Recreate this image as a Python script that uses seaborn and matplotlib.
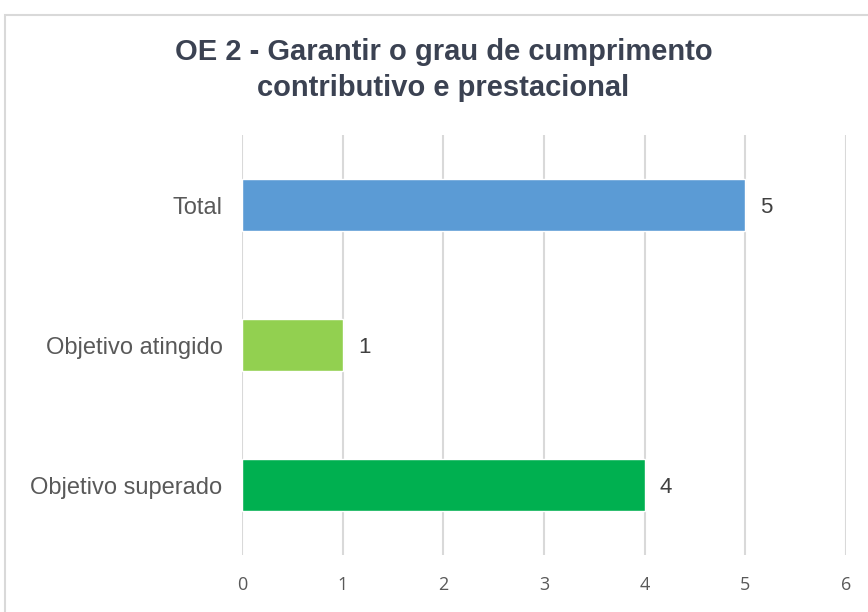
import matplotlib
matplotlib.use("Agg")
import matplotlib.pyplot as plt
import pandas as pd
import seaborn as sns
from matplotlib.patches import Rectangle

categories = ["Total", "Objetivo atingido", "Objetivo superado"]
values = [5, 1, 4]
colors = ["#5B9BD5", "#92D050", "#00B050"]
x_ticks = [0, 1, 2, 3, 4, 5, 6]
title = "OE 2 - Garantir o grau de cumprimento\ncontributivo e prestacional"

sns.set_style("white")
plt.rcParams["font.family"] = ["Liberation Sans", "DejaVu Sans"]

df = pd.DataFrame({"categoria": categories, "valor": values})

fig = plt.figure(figsize=(8.68, 6.12), dpi=100)
ax = fig.add_axes([242 / 868, 1 - 555 / 612, (846 - 242) / 868, (555 - 135) / 612])

sns.barplot(data=df, x="valor", y="categoria", hue="categoria",
            palette=colors, width=0.365, legend=False, ax=ax, saturation=1)

ax.set_xlim(0, 6)
ax.set_ylim(2.5, -0.5)
ax.set_xticks(x_ticks)
ax.set_xticklabels([str(t) for t in x_ticks], fontfamily="Open Sans",
                   fontsize=13, color="#595959")
ax.tick_params(axis="x", length=0, pad=15)
ax.tick_params(axis="y", length=0, pad=14, labelsize=17, labelcolor="#595959")
ax.set_xlabel("")
ax.set_ylabel("")
ax.grid(axis="x", color="#D9D9D9", linewidth=1.5)
ax.set_axisbelow(True)
for s in ax.spines.values():
    s.set_visible(False)

for i, v in enumerate(values):
    ax.text(v + 0.15, i, str(v), va="center_baseline", ha="left",
            fontsize=16, color="#404040")

fig.text(0.511, 1 - 70 / 612, title, ha="center", va="center",
         fontsize=21, fontweight="bold", color="#3B4252", linespacing=1.32)

fig.patches.append(Rectangle((5 / 868, -0.1), 1.2, 1 - 15 / 612 + 0.1,
                             transform=fig.transFigure, fill=False,
                             edgecolor="#D9D9D9", linewidth=1.5))

fig.savefig("out.png", dpi=100)
